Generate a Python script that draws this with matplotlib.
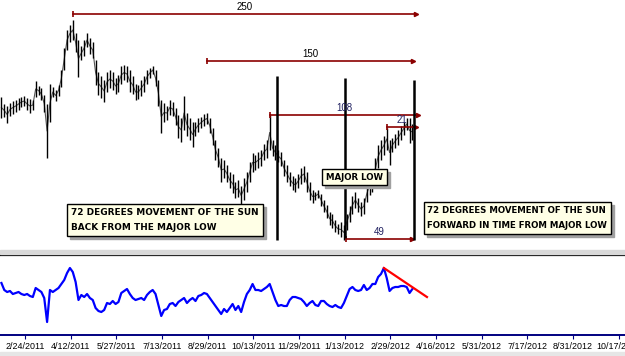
import numpy as np
import matplotlib.pyplot as plt
from matplotlib import transforms
from matplotlib.patches import Rectangle

plt.rcParams['font.family'] = ['Liberation Sans', 'DejaVu Sans']

# price bars, one per two trading days (chart units, no scale shown)
bar_high = [153, 146, 144, 147, 149, 150, 152, 153, 154, 152, 151, 150,
            169, 164, 162, 155, 146, 166, 163, 160, 165, 180, 202, 220,
            225, 230, 217, 210, 204, 210, 217, 212, 208, 190, 178, 174,
            170, 178, 180, 178, 172, 175, 184, 185, 184, 180, 174, 166,
            165, 170, 174, 180, 182, 184, 180, 170, 150, 147, 144, 150,
            148, 142, 135, 132, 154, 137, 132, 128, 128, 132, 133, 136,
            137, 132, 122, 110, 102, 92, 90, 85, 78, 76, 68, 70,
            64, 72, 78, 88, 97, 95, 98, 100, 106, 110, 135, 110,
            105, 100, 98, 90, 85, 78, 74, 72, 76, 82, 84, 78,
            68, 60, 58, 60, 56, 50, 45, 38, 36, 30, 26, 28,
            25, 36, 44, 54, 58, 52, 48, 52, 64, 75, 80, 92,
            105, 110, 114, 122, 110, 112, 116, 120, 124, 128, 132, 132, 126]
bar_low = [132, 133, 127, 134, 136, 138, 140, 143, 144, 140, 137, 140,
           153, 155, 150, 138, 92, 128, 153, 149, 154, 163, 180, 200,
           208, 210, 198, 173, 190, 194, 203, 196, 192, 165, 155, 152,
           148, 158, 162, 160, 156, 158, 166, 170, 168, 158, 156, 150,
           151, 154, 158, 166, 172, 176, 164, 144, 117, 128, 130, 135,
           134, 125, 112, 108, 120, 114, 110, 103, 114, 118, 122, 124,
           126, 117, 105, 90, 83, 68, 72, 68, 62, 57, 52, 53,
           45, 50, 58, 68, 78, 80, 82, 84, 90, 92, 100, 94,
           90, 88, 84, 74, 68, 64, 60, 58, 62, 66, 68, 58,
           50, 47, 50, 52, 44, 38, 32, 25, 22, 18, 16, 13,
           10, 20, 28, 36, 42, 38, 34, 36, 48, 55, 58, 70,
           82, 90, 95, 100, 85, 98, 102, 105, 110, 115, 120, 107, 110]

# oscillator under the price
osc = [52, 45, 43, 44, 41, 42, 43, 41, 40, 41, 39, 38,
       47, 45, 43, 37, 13, 45, 43, 45, 47, 51, 55, 62,
       67, 63, 53, 35, 40, 38, 41, 37, 35, 27, 24, 23,
       25, 32, 31, 34, 31, 33, 42, 44, 46, 41, 37, 35,
       36, 37, 35, 40, 43, 45, 41, 30, 19, 25, 26, 31,
       32, 29, 33, 35, 37, 32, 35, 37, 34, 39, 40, 42,
       41, 37, 33, 29, 25, 21, 26, 23, 27, 31, 25, 29,
       23, 33, 41, 45, 51, 45, 45, 44, 46, 48, 51, 43,
       35, 29, 30, 29, 29, 35, 38, 38, 37, 36, 33, 29,
       32, 34, 30, 29, 34, 34, 31, 29, 28, 30, 28, 27,
       32, 39, 46, 48, 45, 44, 45, 50, 45, 47, 51, 51,
       58, 61, 67, 57, 44, 47, 48, 48, 49, 49, 48, 42, 46]

tick_labels = ['2/24/2011', '4/12/2011', '5/27/2011', '7/13/2011', '8/29/2011',
               '10/13/2011', '11/29/2011', '1/13/2012', '2/29/2012', '4/16/2012',
               '5/31/2012', '7/17/2012', '8/31/2012', '10/17/2012']

# time counts drawn on the chart (trading-day index)
span_text = ['250', '150', '108', '21', '49']
span_from = [51.2, 145.0, 189.2, 271.2, 242.5]
span_to = [291.5, 289.4, 292.9, 291.5, 288.7]
span_level = [236, 189, 135, 123, 11]
span_color = ['black', 'black', '#202060', '#202060', '#202060']

cycle_day = [194.1, 241.8, 290.1]
cycle_low = [10, 12, 10]
cycle_high = [174, 172, 170]

notes = ['72 Degrees Movement of The Sun\nBack from the Major Low',
         '72 Degrees Movement of the sun\nforward in Time from major low',
         'MAJOR LOW']
note_x = [50.0, 299.5, 228.5]
note_y = [30, 32, 73]
note_size = [6.4, 6.2, 6.2]

trend_end = (299.2, 38)

RED = '#8b0000'
n = len(bar_high)
bar_day = 1 + 2 * np.arange(n)
bar_high = np.array(bar_high)
bar_low = np.array(bar_low)

fig = plt.figure(figsize=(6.25, 3.56), dpi=100)
H = 356.0
fig.patches.append(Rectangle((0, 1 - 254 / H), 1, 4 / H, transform=fig.transFigure,
                             color='#d9d9d9', zorder=0))
fig.patches.append(Rectangle((0, 0), 1, 4 / H, transform=fig.transFigure,
                             color='#e6e6e6', zorder=0))

top = fig.add_axes([0, 1 - 250 / H, 1, 250 / H])
bot = fig.add_axes([0, 21 / H, 1, 80 / H])
xmax = 625 / 1.427
for a in (top, bot):
    a.set_xlim(0, xmax)

# price panel
top.set_ylim(0, 250)
top.axis('off')
mid = (bar_high + bar_low) / 2
top.plot(bar_day, mid, color='#555555', lw=0.8)
top.vlines(bar_day, bar_low, bar_high, color='black', lw=1.0)

for lab, x0, x1, lv, c in zip(span_text, span_from, span_to, span_level, span_color):
    top.plot([x0, x1], [lv, lv], color=RED, lw=1.2)
    top.plot(x0, lv, marker='|', color=RED, ms=5, mew=1.2)
    top.plot(x1, lv, marker='>', color=RED, ms=3)
    top.text((x0 + x1) / 2, lv + 2, lab, ha='center', va='bottom', fontsize=7, color=c)

top.vlines(cycle_day, cycle_low, cycle_high, color='black', lw=1.8)

boxes = []
for txt, x, y, fs in zip(notes, note_x, note_y, note_size):
    t = top.text(x, y, txt.upper(), color='black', ha='left', va='center',
                 fontsize=fs, linespacing=1.9, fontfamily='DejaVu Sans',
                 fontweight='semibold', zorder=5,
                 bbox=dict(boxstyle='square,pad=0.45', fc='#ffffe6', ec='black', lw=1.0))
    boxes.append(t)

# drop shadows behind the note boxes
fig.canvas.draw()
for t in boxes:
    bb = t.get_bbox_patch().get_window_extent()
    top.add_patch(Rectangle((bb.x0 + 3, bb.y0 - 3), bb.width, bb.height,
                            transform=transforms.IdentityTransform(),
                            color='#a0a0a0', zorder=4, clip_on=False))

# oscillator panel
bot.set_ylim(0, 80)
bot.plot(bar_day, osc, color='#0000ff', lw=1.6)
k = int(np.argmax(osc[100:])) + 100
bot.plot([bar_day[k], trend_end[0]], [osc[k], trend_end[1]], color='#ff0000', lw=1.6)
for s in ('left', 'right'):
    bot.spines[s].set_visible(False)
bot.spines['top'].set_color('black')
bot.spines['top'].set_linewidth(1.6)
bot.spines['bottom'].set_color('#000080')
bot.spines['bottom'].set_linewidth(1.4)
bot.set_yticks([])
bot.set_xticks(17.5 + 32 * np.arange(len(tick_labels)))
bot.set_xticklabels(tick_labels, fontsize=6.4)
bot.tick_params(axis='x', length=3, width=0.8, color='#000080', pad=2)

fig.savefig('out.png', dpi=100)
